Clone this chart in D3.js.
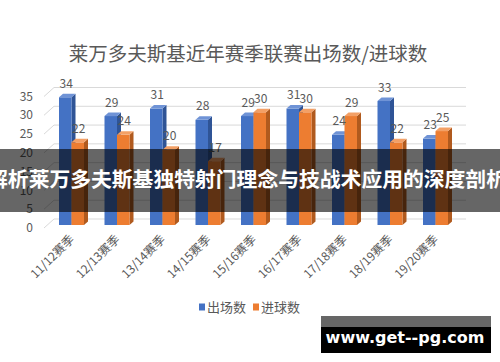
<!DOCTYPE html>
<html>
<head>
<meta charset="utf-8">
<script src="https://cdn.jsdelivr.net/npm/d3@7"></script>
<style>
  body { margin: 0; background: #fff; }
  #chart { width: 500px; height: 362px; }
</style>
</head>
<body>
<div id="chart"></div>
<script>
// seasons on the x axis
const seasons = ["11/12赛季", "12/13赛季", "13/14赛季", "14/15赛季", "15/16赛季",
                 "16/17赛季", "17/18赛季", "18/19赛季", "19/20赛季"];
const seriesNames = ["出场数", "进球数"];
const appearances = [34, 29, 31, 28, 29, 31, 24, 33, 23]; // 出场数
const goals = [22, 24, 20, 17, 30, 30, 29, 22, 25];        // 进球数
const yTicks = [0, 5, 10, 15, 20, 25, 30, 35];

const titleText = "莱万多夫斯基近年赛季联赛出场数/进球数";
const bannerText = "解析莱万多夫斯基独特射门理念与技战术应用的深度剖析";
const watermarkText = "www.get--pg.com";

const colors = {
    "出场数": { front: "#4472C4", side: "#2F5496", top: "#6F93D6" },
    "进球数": { front: "#ED7D31", side: "#B05A1E", top: "#F3A066" }
};

const width = 500, height = 362;
const cjk = "'Noto Sans CJK SC', 'Noto Sans', sans-serif";

const svg = d3.select("#chart").append("svg")
    .attr("width", width)
    .attr("height", height);

svg.append("rect").attr("width", width).attr("height", height).attr("fill", "#fff");

// Title
svg.append("text")
    .attr("x", 248)
    .attr("y", 54)
    .attr("dy", "0.35em")
    .attr("text-anchor", "middle")
    .style("font-family", cjk)
    .style("font-size", "19.5px")
    .style("fill", "#595959")
    .text(titleText);

// scales
const yScale = d3.scaleLinear().domain([0, 35]).range([228, 96.5]);
const xScale = d3.scaleBand().domain(seasons).range([47, 456.5]);
const inner = d3.scaleBand().domain(seriesNames).range([12, 37]);

// 3D offsets
const wallDx = 10, wallDy = 9;      // back wall gridlines
const barDy = 3;                    // front face of bars sits a bit behind the floor edge
const depthX = 4, depthY = 3.5;     // bar depth

// Gridlines (side wall slant + back wall)
const grid = svg.append("g");
yTicks.forEach(v => {
    const yf = yScale(v);
    grid.append("path")
        .attr("d", `M44,${yf}L${44 + wallDx},${yf - wallDy}L466,${yf - wallDy}`)
        .attr("fill", "none")
        .attr("stroke", "#D9D9D9")
        .attr("stroke-width", 1);
});

// Y axis labels
svg.append("g")
    .selectAll("text")
    .data(yTicks)
    .enter().append("text")
    .attr("x", 33)
    .attr("y", d => yScale(d))
    .attr("dy", "0.35em")
    .attr("text-anchor", "end")
    .style("font-family", cjk)
    .style("font-size", "12px")
    .style("fill", "#595959")
    .text(d => d);

// bar data
const bars = [];
seasons.forEach((s, i) => {
    bars.push({ season: s, series: "出场数", value: appearances[i] });
    bars.push({ season: s, series: "进球数", value: goals[i] });
});

const barG = svg.append("g");
bars.forEach(d => {
    const x0 = xScale(d.season) + inner(d.series);
    const w = inner.bandwidth();
    const yTop = yScale(d.value) - barDy;
    const yBase = yScale(0) - barDy;
    const c = colors[d.series];
    // side
    barG.append("path")
        .attr("d", `M${x0 + w},${yTop}L${x0 + w + depthX},${yTop - depthY}L${x0 + w + depthX},${yBase - depthY}L${x0 + w},${yBase}Z`)
        .attr("fill", c.side);
    // front
    barG.append("rect")
        .attr("x", x0)
        .attr("y", yTop)
        .attr("width", w)
        .attr("height", yBase - yTop)
        .attr("fill", c.front);
    // top
    barG.append("path")
        .attr("d", `M${x0},${yTop}L${x0 + depthX},${yTop - depthY}L${x0 + w + depthX},${yTop - depthY}L${x0 + w},${yTop}Z`)
        .attr("fill", c.top);
});

// value labels
svg.append("g")
    .selectAll("text")
    .data(bars)
    .enter().append("text")
    .attr("x", d => xScale(d.season) + inner(d.series) + inner.bandwidth() / 2 + 1)
    .attr("y", d => yScale(d.value) - barDy - depthY - 6)
    .attr("text-anchor", "middle")
    .style("font-family", cjk)
    .style("font-size", "12px")
    .style("fill", "#595959")
    .text(d => d.value);

// x axis labels, rotated
svg.append("g")
    .selectAll("text")
    .data(seasons)
    .enter().append("text")
    .attr("transform", d => `translate(${xScale(d) + 25},${237}) rotate(-45)`)
    .attr("text-anchor", "end")
    .attr("dy", "0.35em")
    .style("font-family", cjk)
    .style("font-size", "12px")
    .style("fill", "#595959")
    .text(d => d);

// legend
const legend = svg.append("g")
    .selectAll("g")
    .data(seriesNames)
    .enter().append("g")
    .attr("transform", (d, i) => `translate(${199 + i * 54},307)`);

legend.append("rect")
    .attr("x", 0)
    .attr("y", -3.5)
    .attr("width", 6)
    .attr("height", 7)
    .attr("fill", d => colors[d].front);

legend.append("text")
    .attr("x", 8)
    .attr("y", 0)
    .attr("dy", "0.35em")
    .style("font-family", cjk)
    .style("font-size", "13px")
    .style("fill", "#595959")
    .text(d => d);

// overlay banner
svg.append("rect")
    .attr("x", 0)
    .attr("y", 149)
    .attr("width", width)
    .attr("height", 63)
    .attr("fill", "rgba(0,0,0,0.6)");

svg.append("text")
    .attr("x", 247)
    .attr("y", 180)
    .attr("dy", "0.35em")
    .attr("text-anchor", "middle")
    .style("font-family", cjk)
    .style("font-weight", "bold")
    .style("font-size", "20.8px")
    .style("fill", "#fff")
    .text(bannerText);

// watermark box
svg.append("rect")
    .attr("x", 321).attr("y", 316)
    .attr("width", 170).attr("height", 11)
    .attr("fill", "#666");
svg.append("rect")
    .attr("x", 321).attr("y", 327)
    .attr("width", 170).attr("height", 26)
    .attr("fill", "#000");
svg.append("text")
    .attr("x", 405)
    .attr("y", 337)
    .attr("dy", "0.35em")
    .attr("text-anchor", "middle")
    .style("font-family", "'DejaVu Sans', sans-serif")
    .style("font-weight", "bold")
    .style("font-size", "16px")
    .style("fill", "#fff")
    .text(watermarkText);
</script>
</body>
</html>
